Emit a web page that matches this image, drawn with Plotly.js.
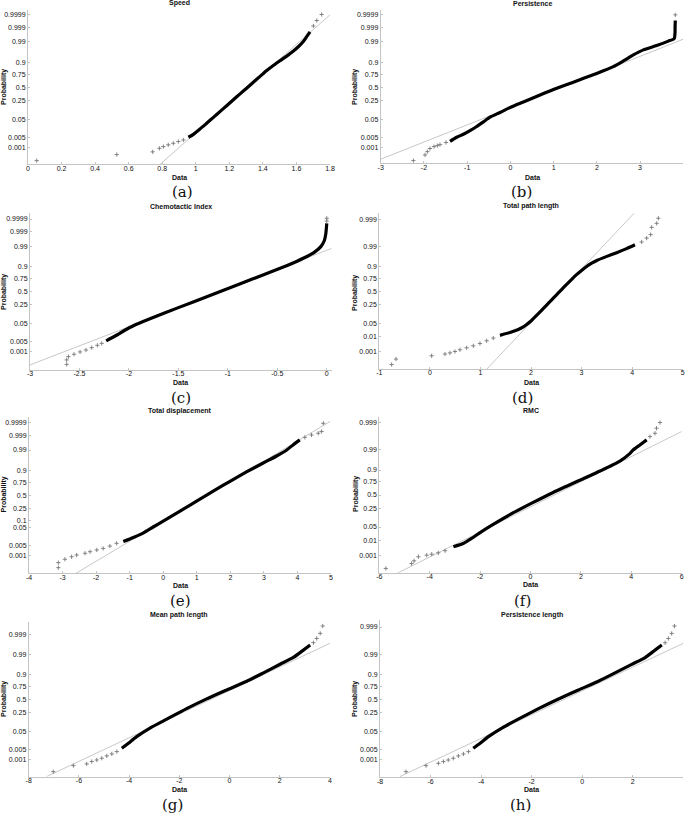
<!DOCTYPE html>
<html>
<head>
<meta charset="utf-8">
<script src="https://cdn.plot.ly/plotly-3.0.1.min.js"></script>
<style>html,body{margin:0;padding:0;background:#fff;}#chart{width:685px;height:816px;}</style>
</head>
<body>
<div id="chart"></div>
<script>
// ---------- tick labels ----------
const probTicksFull = ['0.001','0.005','0.05','0.25','0.5','0.75','0.9','0.99','0.999','0.9999'];
const probTicksE = ['0.001','0.005','0.05','0.1','0.25','0.5','0.75','0.9','0.99','0.999','0.9999'];
const probTicksD = ['0.001','0.01','0.05','0.25','0.5','0.75','0.9','0.99','0.999'];
const probTicksG = ['0.001','0.005','0.05','0.25','0.5','0.75','0.9','0.99','0.999'];
// probability at which each label is drawn (top labels of d,f,g,h sit higher than their text)
const probPosFull = [0.001,0.005,0.05,0.25,0.5,0.75,0.9,0.99,0.999,0.9999];
const probPosE = [0.001,0.005,0.05,0.1,0.25,0.5,0.75,0.9,0.99,0.999,0.9999];
const probPosD = [0.001,0.01,0.05,0.25,0.5,0.75,0.9,0.99,0.9999];
const probPosG = [0.001,0.005,0.05,0.25,0.5,0.75,0.9,0.99,0.99955];
const probPosH = [0.001,0.005,0.05,0.25,0.5,0.75,0.9,0.99,0.9999];

const xTicksA = ['0','0.2','0.4','0.6','0.8','1','1.2','1.4','1.6','1.8'];
const xTicksB = ['-3','-2','-1','0','1','2','3','4'];
const xTicksC = ['-3','-2.5','-2','-1.5','-1','-0.5','0'];
const xTicksD = ['-1','0','1','2','3','4','5'];
const xTicksE = ['-4','-3','-2','-1','0','1','2','3','4','5'];
const xTicksF = ['-6','-4','-2','0','2','4','6'];
const xTicksG = ['-8','-6','-4','-2','0','2','4'];

// ---------- data (x = data value, q = normal quantile of plotting probability) ----------
// (a) Speed
const speedBodyX = [0.956,0.986,1.025,1.065,1.105,1.144,1.184,1.224,1.264,1.303,1.343,1.383,1.423,1.462,1.502,1.542,1.582,1.611,1.641,1.661,1.681];
const speedBodyQ = [-2.57,-2.42,-2.15,-1.85,-1.55,-1.25,-0.95,-0.64,-0.34,-0.05,0.26,0.56,0.86,1.12,1.36,1.60,1.86,2.08,2.35,2.60,2.85];
const speedTailX = [0.052,0.529,0.743,0.783,0.807,0.836,0.866,0.896,0.926,1.701,1.721,1.75];
const speedTailQ = [-3.77,-3.46,-3.32,-3.14,-3.05,-2.96,-2.88,-2.79,-2.71,3.15,3.43,3.74];
const speedFitX = [0.783,1.80];
const speedFitQ = [-3.99,3.72];

// (b) Persistence
const persBodyX = [-1.396,-1.242,-1.088,-0.934,-0.78,-0.625,-0.471,-0.24,0.007,0.30,0.686,0.994,1.456,1.996,2.38,2.613,2.844,3.076,3.384,3.654,3.79,3.808,3.81,3.815];
const persBodyQ = [-2.78,-2.57,-2.42,-2.23,-2.02,-1.78,-1.54,-1.30,-1.03,-0.76,-0.40,-0.12,0.26,0.71,1.06,1.35,1.66,1.92,2.14,2.37,2.50,2.78,3.12,3.43];
const persTailX = [-2.244,-1.975,-1.92,-1.86,-1.766,-1.69,-1.628,-1.49,3.815];
const persTailQ = [-3.77,-3.48,-3.31,-3.15,-3.05,-3.00,-2.95,-2.84,3.72];
const persFitX = [-3,4];
const persFitQ = [-3.70,2.47];

// (c) Chemotactic Index
const chemoBodyX = [-2.23,-2.14,-2.05,-1.95,-1.8,-1.5,-1.2,-0.9,-0.6,-0.4,-0.3,-0.2,-0.12,-0.06,-0.025,-0.01,-0.003,0];
const chemoBodyQ = [-2.55,-2.30,-2.03,-1.76,-1.44,-0.84,-0.25,0.34,0.93,1.33,1.55,1.79,2.03,2.30,2.60,2.95,3.30,3.50];
const chemoTailX = [-2.629,-2.629,-2.612,-2.555,-2.494,-2.434,-2.376,-2.319,-2.275,0,0];
const chemoTailQ = [-3.76,-3.53,-3.36,-3.24,-3.12,-3.02,-2.90,-2.78,-2.68,3.62,3.76];
const chemoFitX = [-3,0.05];
const chemoFitQ = [-3.79,2.21];

// (d) Total path length
const tplBodyX = [1.386,1.584,1.749,1.84,1.914,2.0,2.1,2.2,2.3,2.4,2.5,2.6,2.7,2.8,2.9,3.0,3.1,3.2,3.3,3.5,3.694,3.891,4.056];
const tplBodyQ = [-2.26,-2.11,-1.96,-1.84,-1.70,-1.52,-1.26,-1.00,-0.73,-0.46,-0.19,0.08,0.35,0.61,0.86,1.08,1.28,1.45,1.59,1.80,1.99,2.20,2.40];
const tplTailX = [-0.756,-0.67,0.035,0.299,0.398,0.496,0.595,0.727,0.859,0.991,1.123,1.254,4.188,4.287,4.366,4.386,4.485,4.518];
const tplTailQ = [-3.76,-3.48,-3.31,-3.22,-3.16,-3.09,-3.00,-2.90,-2.80,-2.68,-2.54,-2.40,2.54,2.74,2.92,3.29,3.50,3.76];
const tplFitX = [1.123,4.036];
const tplFitQ = [-4.0,4.01];

// (e) Total displacement
const tdBodyX = [-1.19,-0.89,-0.59,-0.30,0.0,0.30,0.60,0.995,1.49,1.99,2.48,2.98,3.38,3.68,3.87,4.07];
const tdBodyQ = [-2.38,-2.17,-1.93,-1.63,-1.33,-1.02,-0.71,-0.30,0.21,0.72,1.20,1.66,2.02,2.33,2.59,2.85];
const tdTailX = [-3.126,-3.126,-2.93,-2.73,-2.58,-2.33,-2.18,-1.98,-1.79,-1.59,-1.39,4.22,4.42,4.62,4.72,4.77];
const tdTailQ = [-3.72,-3.46,-3.29,-3.16,-3.07,-2.98,-2.90,-2.81,-2.73,-2.61,-2.47,2.98,3.10,3.19,3.28,3.70];
const tdFitX = [-2.6,4.97];
const tdFitQ = [-4.01,3.79];

// (f) RMC
const rmcBodyX = [-3.06,-2.67,-2.34,-2.0,-1.48,-0.68,0.05,0.90,1.96,2.76,3.55,3.95,4.08,4.34,4.61];
const rmcBodyQ = [-2.66,-2.49,-2.23,-1.93,-1.51,-0.91,-0.42,0.13,0.76,1.23,1.74,2.14,2.32,2.57,2.83];
const rmcTailX = [-5.74,-4.72,-4.62,-4.45,-4.12,-3.92,-3.66,-3.39,4.74,4.94,5.0,5.14];
const rmcTailQ = [-3.77,-3.52,-3.38,-3.17,-3.09,-3.04,-2.97,-2.86,3.0,3.17,3.43,3.72];
const rmcFitX = [-5.31,6.0];
const rmcFitQ = [-4.03,3.26];

// (g) Mean path length
const mplBodyX = [-4.29,-4.03,-3.70,-3.17,-2.50,-1.71,-0.91,-0.11,0.685,1.35,2.01,2.54,2.94,3.21];
const mplBodyQ = [-2.52,-2.26,-1.92,-1.48,-1.02,-0.48,0.02,0.48,0.93,1.36,1.80,2.15,2.53,2.79];
const mplTailX = [-7.02,-6.22,-5.69,-5.49,-5.29,-5.09,-4.89,-4.69,-4.49,3.34,3.47,3.61,3.71];
const mplTailQ = [-3.72,-3.41,-3.32,-3.20,-3.12,-3.03,-2.91,-2.81,-2.69,2.91,3.13,3.39,3.77];
const mplFitX = [-7.28,4.0];
const mplFitQ = [-3.97,2.88];

// (h) Persistence length
const plBodyX = [-4.31,-4.04,-3.71,-3.18,-2.53,-1.73,-0.94,-0.15,0.64,1.30,1.96,2.49,2.88,3.15];
const plBodyQ = [-2.52,-2.26,-1.92,-1.48,-1.02,-0.48,0.02,0.48,0.93,1.36,1.80,2.15,2.53,2.79];
const plTailX = [-6.97,-6.18,-5.69,-5.49,-5.30,-5.10,-4.90,-4.70,-4.50,3.28,3.41,3.54,3.65];
const plTailQ = [-3.72,-3.41,-3.29,-3.20,-3.12,-3.03,-2.91,-2.81,-2.69,2.91,3.13,3.39,3.77];
const plFitX = [-7.21,4.0];
const plFitQ = [-3.97,2.88];

// ---------- helpers ----------
function norminv(p){
  const a=[-3.969683028665376e+01,2.209460984245205e+02,-2.759285104469687e+02,1.383577518672690e+02,-3.066479806614716e+01,2.506628277459239e+00];
  const b=[-5.447609879822406e+01,1.615858368580409e+02,-1.556989798598866e+02,6.680131188771972e+01,-1.328068155288572e+01];
  const c=[-7.784894002430293e-03,-3.223964580411365e-01,-2.400758277161838e+00,-2.549671348402356e+00,4.374664141464968e+00,2.938163982698783e+00];
  const d=[7.784695709041462e-03,3.224671290700398e-01,2.445134137142996e+00,3.754408661907416e+00];
  const pl=0.02425; let q,r;
  if(p<pl){q=Math.sqrt(-2*Math.log(p));return (((((c[0]*q+c[1])*q+c[2])*q+c[3])*q+c[4])*q+c[5])/((((d[0]*q+d[1])*q+d[2])*q+d[3])*q+1);}
  if(p<=1-pl){q=p-0.5;r=q*q;return (((((a[0]*r+a[1])*r+a[2])*r+a[3])*r+a[4])*r+a[5])*q/(((((b[0]*r+b[1])*r+b[2])*r+b[3])*r+b[4])*r+1);}
  q=Math.sqrt(-2*Math.log(1-p));return -(((((c[0]*q+c[1])*q+c[2])*q+c[3])*q+c[4])*q+c[5])/((((d[0]*q+d[1])*q+d[2])*q+d[3])*q+1);
}

const W=685,H=816;
const panels = [
 {title:'Speed', rect:[28,330,10,164.3], xr:[0,1.8], zr:[-3.96,3.97], xt:xTicksA, yl:probTicksFull, yp:probPosFull, tY:3.5, pX:4, pY:87, dY:177.5, lab:'(a)', lX:183, lY:192,
  d:[speedBodyX,speedBodyQ,speedTailX,speedTailQ,speedFitX,speedFitQ]},
 {title:'Persistence', rect:[380.7,683.3,10,163.3], xr:[-3,4], zr:[-3.91,3.97], xt:xTicksB, yl:probTicksFull, yp:probPosFull, tY:3.5, pX:355, pY:87, dY:177, lab:'(b)', lX:521, lY:192,
  d:[persBodyX,persBodyQ,persTailX,persTailQ,persFitX,persFitQ]},
 {title:'Chemotactic Index', rect:[30,331.7,213,370], xr:[-3,0.05], zr:[-4.05,4.03], xt:xTicksC, yl:probTicksFull, yp:probPosFull, tY:206, pX:4, pY:292, dY:382, lab:'(c)', lX:181, lY:398,
  d:[chemoBodyX,chemoBodyQ,chemoTailX,chemoTailQ,chemoFitX,chemoFitQ]},
 {title:'Total path length', rect:[379.3,682.7,213,369], xr:[-1,5], zr:[-3.99,4.03], xt:xTicksD, yl:probTicksD, yp:probPosD, tY:206, pX:355, pY:293, dY:382, lab:'(d)', lX:522, lY:398,
  d:[tplBodyX,tplBodyQ,tplTailX,tplTailQ,tplFitX,tplFitQ]},
 {title:'Total displacement', rect:[29,331,416.7,573.3], xr:[-4,5], zr:[-4.01,4.04], xt:xTicksE, yl:probTicksE, yp:probPosE, tY:410.5, pX:3.5, pY:495, dY:585.5, lab:'(e)', lX:180, lY:601,
  d:[tdBodyX,tdBodyQ,tdTailX,tdTailQ,tdFitX,tdFitQ]},
 {title:'RMC', rect:[379.3,681.7,417.3,572.7], xr:[-6,6], zr:[-3.99,3.99], xt:xTicksF, yl:probTicksD, yp:probPosD, tY:410.5, pX:356, pY:494, dY:584.5, lab:'(f)', lX:522, lY:601,
  d:[rmcBodyX,rmcBodyQ,rmcTailX,rmcTailQ,rmcFitX,rmcFitQ]},
 {title:'Mean path length', rect:[28.7,330,621.7,776.7], xr:[-8,4], zr:[-3.98,3.99], xt:xTicksG, yl:probTicksG, yp:probPosG, tY:615, pX:4, pY:699, dY:789.5, lab:'(g)', lX:172, lY:805,
  d:[mplBodyX,mplBodyQ,mplTailX,mplTailQ,mplFitX,mplFitQ]},
 {title:'Persistence length', rect:[380,683.3,620,777.3], xr:[-8,4], zr:[-4.01,4.08], xt:xTicksG, yl:probTicksG, yp:probPosH, tY:615, pX:355, pY:699, dY:789.5, lab:'(h)', lX:520, lY:805,
  d:[plBodyX,plBodyQ,plTailX,plTailQ,plFitX,plFitQ]}
];

const traces=[], annotations=[];
const layout={width:W,height:H,margin:{l:0,r:0,t:0,b:0},paper_bgcolor:'#fff',plot_bgcolor:'#fff',showlegend:false,annotations:annotations};
const tickFont={family:'Liberation Sans, Arial, sans-serif',size:7,color:'#111'};
const labFont={family:'Liberation Sans, Arial, sans-serif',size:7,color:'#111'};
const eps=1e-6;

panels.forEach((p,i)=>{
  const n=i+1, sx=n===1?'':String(n);
  const [l,r,t,b]=p.rect;
  layout['xaxis'+sx]={domain:[l/W,r/W],range:[p.xr[0]-eps,p.xr[1]+eps],anchor:'y'+sx,
    tickvals:p.xt.map(Number),ticktext:p.xt,showline:true,linecolor:'#c4c4c4',linewidth:1,
    ticks:'inside',ticklen:2,tickcolor:'#c4c4c4',showgrid:false,zeroline:false,tickfont:tickFont,
    ticklabelstandoff:-3,fixedrange:true};
  layout['yaxis'+sx]={domain:[1-b/H,1-t/H],range:p.zr,anchor:'x'+sx,
    tickvals:p.yp.map(norminv),ticktext:p.yl,showline:true,linecolor:'#c4c4c4',linewidth:1,
    ticks:'inside',ticklen:2,tickcolor:'#c4c4c4',showgrid:false,zeroline:false,tickfont:tickFont,fixedrange:true};
  const [bx,bq,tx,tq,fx,fq]=p.d;
  traces.push({x:fx,y:fq,xaxis:'x'+sx,yaxis:'y'+sx,mode:'lines',line:{color:'#c2c2c2',width:0.9},hoverinfo:'skip'});
  traces.push({x:bx,y:bq,xaxis:'x'+sx,yaxis:'y'+sx,mode:'lines',line:{color:'#000',width:3.2,shape:'spline',smoothing:0.6},hoverinfo:'skip'});
  traces.push({x:tx,y:tq,xaxis:'x'+sx,yaxis:'y'+sx,mode:'markers',marker:{symbol:'cross-thin',size:3,color:'#777',line:{width:0.9,color:'#777'}},hoverinfo:'skip'});
  annotations.push({xref:'paper',yref:'paper',x:((l+r)/2)/W,y:1-p.tY/H,xanchor:'center',yanchor:'middle',showarrow:false,
    text:'<b>'+p.title+'</b>',font:labFont});
  annotations.push({xref:'paper',yref:'paper',x:p.pX/W,y:1-p.pY/H,xanchor:'center',yanchor:'middle',showarrow:false,textangle:-90,
    text:'<b>Probability</b>',font:labFont});
  annotations.push({xref:'paper',yref:'paper',x:((l+r)/2)/W,y:1-p.dY/H,xanchor:'center',yanchor:'middle',showarrow:false,
    text:'<b>Data</b>',font:labFont});
  annotations.push({xref:'paper',yref:'paper',x:p.lX/W,y:1-p.lY/H,xanchor:'center',yanchor:'middle',showarrow:false,
    text:p.lab,font:{family:'DejaVu Serif, Liberation Serif, serif',size:15,color:'#111'}});
});

Plotly.newPlot('chart',traces,layout,{staticPlot:true,displayModeBar:false});
</script>
</body>
</html>
